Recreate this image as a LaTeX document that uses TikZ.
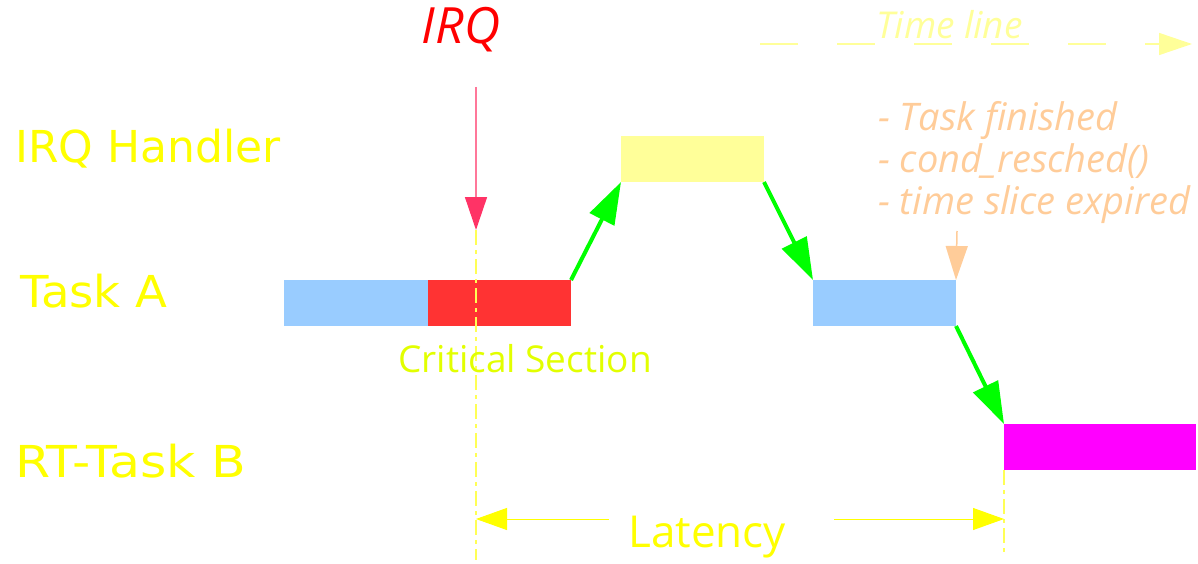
\documentclass[tikz,border=0pt]{standalone}
\usepackage{fontspec}
\setmainfont{Open Sans}
\newfontfamily\labelfont{DejaVu Sans}
\newfontfamily\labelfontA[FakeStretch=1.06]{DejaVu Sans}
\newfontfamily\labelfontB[FakeStretch=1.15]{DejaVu Sans}
\usetikzlibrary{arrows.meta}
\definecolor{lblyel}{HTML}{FFFF00}
\definecolor{critcol}{HTML}{E2FF00}
\definecolor{tlcol}{HTML}{FFFF99}
\definecolor{notecol}{HTML}{FFCC99}
\definecolor{barblue}{HTML}{99CCFF}
\definecolor{barred}{HTML}{FF3333}
\definecolor{barmag}{HTML}{FF00FF}
\definecolor{baryel}{HTML}{FFFF99}
\definecolor{arrgreen}{HTML}{00FF00}
\definecolor{irqline}{HTML}{FF7799}
\definecolor{irqhead}{HTML}{FF3366}
\definecolor{irqtext}{HTML}{FF0000}
\definecolor{dashyel}{HTML}{FFFF55}
\tikzset{
  bar/.style={inner sep=0, outer sep=0, minimum width=144pt, minimum height=46pt, anchor=north west},
  rowlabel/.style={anchor=base west, inner sep=0, text=lblyel},
  greenarr/.style={draw=arrgreen, line width=4pt, -{Triangle[length=42pt,width=27pt]}},
  vline/.style={draw=dashyel, line width=1.5pt, dash pattern=on 15pt off 5pt on 4pt off 5pt},
  latarr/.style={draw=lblyel, line width=1pt, -{Triangle[length=31pt,width=22pt]}},
  notetext/.style={anchor=base west, inner sep=0, text=notecol, font=\fontsize{38}{41.5}\selectfont\itshape},
}
\begin{document}
\begin{tikzpicture}[x=1pt,y=-1pt]
\useasboundingbox (0,0) rectangle (1198,564);
% row labels
\node[rowlabel, font=\labelfont\fontsize{44}{50}\selectfont] (lirq) at (15,163) {IRQ Handler};
\node[rowlabel, font=\labelfontA\fontsize{44}{50}\selectfont] (lta) at (20,307) {Task A};
\node[rowlabel, font=\labelfontB\fontsize{44}{50}\selectfont] (ltb) at (15,477) {RT-Task B};
% bars
\node[bar, fill=barblue] (a1) at (284,280) {};
\node[bar, fill=barred, minimum width=143pt] (crit) at (428,280) {};
\node[bar, fill=baryel, minimum width=143pt] (irqh) at (621,136) {};
\node[bar, fill=barblue, minimum width=143pt] (a2) at (813,280) {};
\node[bar, fill=barmag, minimum width=192pt] (tb) at (1004,424) {};
% vertical dash-dot lines
\coordinate (v1top) at (476,230);
\coordinate (v1bot) at (476,560);
\coordinate (v2top) at (1004,470);
\coordinate (v2bot) at (1004,556);
\draw[vline] (v1top) -- (v1bot);
\draw[vline] (v2top) -- (v2bot);
% critical section label
\node[anchor=base west, inner sep=0, text=critcol, font=\fontsize{37}{40}\selectfont] (crl) at (398,372) {Critical Section};
% green arrows
\draw[greenarr] (crit.north east) -- (irqh.south west);
\draw[greenarr] (irqh.south east) -- (a2.north west);
\draw[greenarr] (a2.south east) -- (tb.north west);
% IRQ
\node[anchor=base, inner sep=0, text=irqtext, font=\fontsize{50}{52}\selectfont\itshape] (irq) at (461,44) {IRQ};
\coordinate (irqs) at (476,87);
\draw[draw=irqline, line width=1.5pt, -{Triangle[length=33pt,width=22pt,color=irqhead]}] (irqs) -- (v1top);
% time line
\node[anchor=base west, inner sep=0, text=tlcol, font=\fontsize{37}{40}\selectfont\itshape] (tl) at (876,39) {Time line};
\coordinate (tl0) at (760,44);
\coordinate (tl1) at (1192,44);
\draw[draw=tlcol, line width=1.5pt, dash pattern=on 38pt off 39pt, -{Triangle[length=33pt,width=22pt]}] (tl0) -- (tl1);
% notes
\node[notetext] (n1) at (878,131) {- Task finished};
\node[notetext] (n2) at (878,172) {- cond\_resched()};
\node[notetext] (n3) at (878,214) {- time slice expired};
\coordinate (ns) at (957,231);
\draw[draw=notecol, line width=1.5pt, -{Triangle[length=34pt,width=22pt]}] (ns) -- (a2.north east);
% latency
\node[anchor=base, inner sep=0, text=lblyel, font=\fontsize{44}{48}\selectfont] (lat) at (707,547) {Latency};
\coordinate (ll) at (609,519);
\coordinate (lr) at (834,519);
\coordinate (lltip) at (476,519);
\coordinate (lrtip) at (1004,519);
\draw[latarr] (ll) -- (lltip);
\draw[latarr] (lr) -- (lrtip);
\end{tikzpicture}
\end{document}
